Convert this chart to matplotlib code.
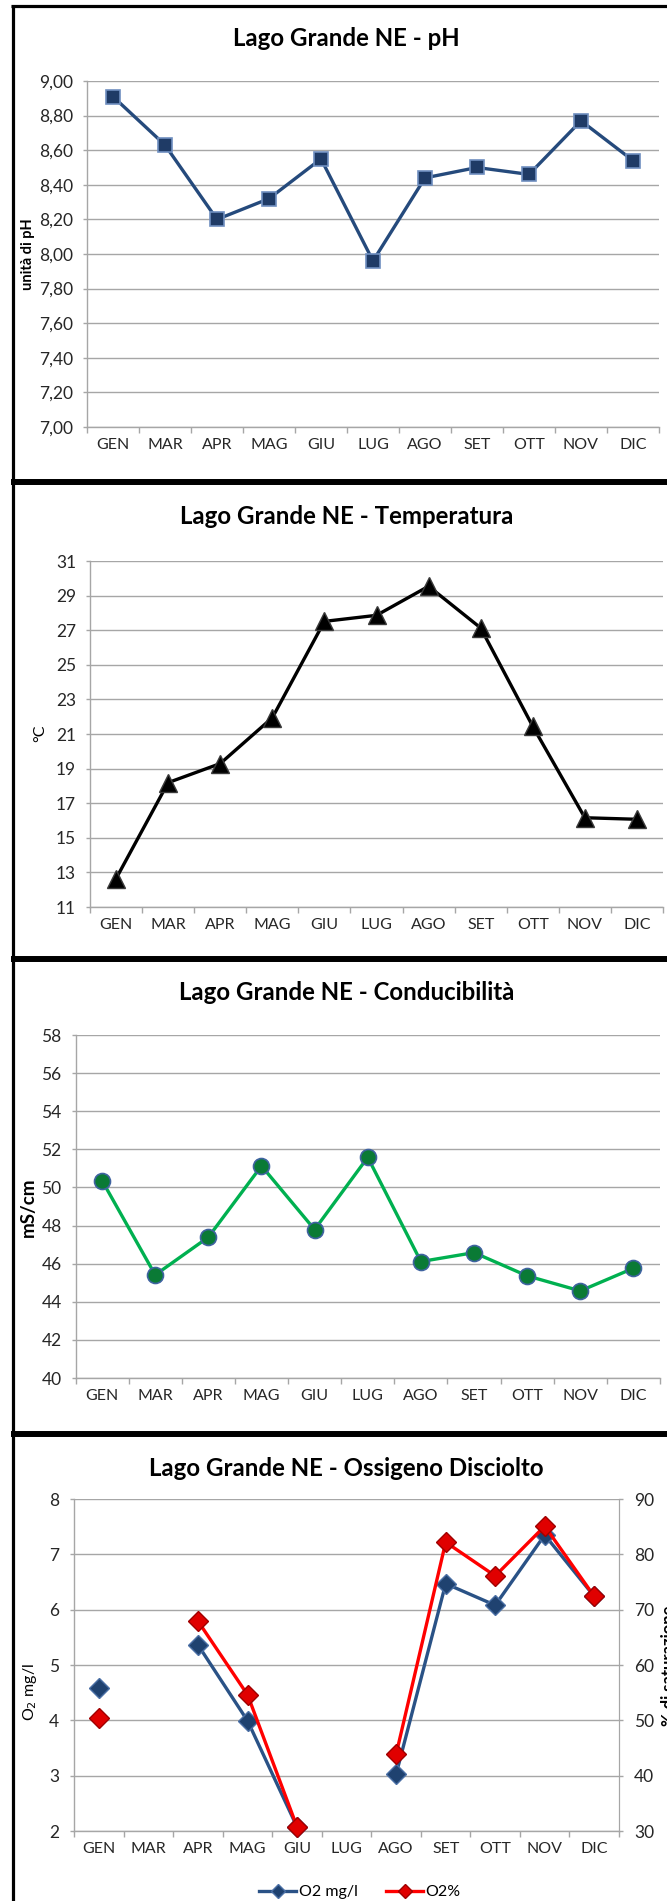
import numpy as np
import matplotlib
matplotlib.use("Agg")
import matplotlib.pyplot as plt
from matplotlib.lines import Line2D

plt.rcParams['font.family'] = ['Lato', 'DejaVu Sans']

months = ["GEN", "MAR", "APR", "MAG", "GIU", "LUG", "AGO", "SET", "OTT", "NOV", "DIC"]
ph = [8.91, 8.63, 8.20, 8.32, 8.55, 7.96, 8.44, 8.50, 8.46, 8.77, 8.54]
temp = [12.64, 18.19, 19.29, 21.94, 27.51, 27.86, 29.54, 27.13, 21.44, 16.16, 16.07]
cond = [50.36, 45.41, 47.39, 51.13, 47.79, 51.58, 46.11, 46.58, 45.36, 44.57, 45.76]
o2_mgl = [4.59, np.nan, 5.36, 3.99, 2.07, np.nan, 3.03, 6.47, 6.08, 7.35, 6.24]
o2_pct = [50.5, np.nan, 67.9, 54.6, 30.7, np.nan, 43.9, 82.2, 76.1, 85.1, 72.4]

ph_ticks = [7.0, 7.2, 7.4, 7.6, 7.8, 8.0, 8.2, 8.4, 8.6, 8.8, 9.0]
temp_ticks = [11, 13, 15, 17, 19, 21, 23, 25, 27, 29, 31]
cond_ticks = [40, 42, 44, 46, 48, 50, 52, 54, 56, 58]
o2_ticks = [2, 3, 4, 5, 6, 7, 8]
pct_ticks = [30, 40, 50, 60, 70, 80, 90]

W, H = 667, 1901
fig = plt.figure(figsize=(W / 100, H / 100), dpi=100)
fig.patch.set_facecolor("white")

GRID = "#a6a6a6"
TXT = "#262626"
TICKFS = 12.5
CATFS = 11.5
TITLEFS = 17.3


def fx(x):
    return x / W


def fy(y):
    return 1 - y / H


def make_ax(l, r, t, b):
    ax = fig.add_axes([l / W, 1 - b / H, (r - l) / W, (b - t) / H])
    return ax


def style_ax(ax, ticks, fmt):
    n = len(months)
    ax.set_xlim(0, n)
    ax.set_xticks(np.arange(n + 1))
    ax.set_xticklabels([])
    ax.set_xticks(np.arange(n) + 0.5, minor=True)
    ax.set_xticklabels(months, minor=True, fontsize=CATFS, color=TXT)
    ax.tick_params(axis="x", which="major", length=4, color=GRID, width=1, direction="out")
    ax.tick_params(axis="x", which="minor", length=0, pad=8)
    ax.set_ylim(ticks[0], ticks[-1])
    ax.set_yticks(ticks)
    ax.set_yticklabels([fmt(v) for v in ticks], fontsize=TICKFS, color=TXT)
    ax.tick_params(axis="y", length=3, color=GRID, width=1, pad=7, direction="out")
    ax.grid(axis="y", color=GRID, lw=1)
    ax.set_axisbelow(True)
    for s in ["top", "right"]:
        ax.spines[s].set_visible(False)
    for s in ["left", "bottom"]:
        ax.spines[s].set_color(GRID)
        ax.spines[s].set_linewidth(1)
    ax.set_facecolor("none")


x = np.arange(len(months)) + 0.5

# ---- Panel 1: pH
ax1 = make_ax(87, 659, 81, 427)
style_ax(ax1, ph_ticks, lambda v: f"{v:.2f}".replace(".", ","))
ax1.plot(x, ph, color="#254a7c", lw=2.4, marker="s", ms=10.5,
         mfc="#1f3b66", mec="#6f8fc0", mew=1.2, zorder=3, clip_on=False)
fig.text(fx(346), fy(38), "Lago Grande NE - pH", ha="center", va="center",
         fontsize=TITLEFS, fontweight="bold", color="black")
fig.text(fx(28), fy(254), "unità di pH", rotation=90, ha="center", va="center",
         fontsize=10.5, fontweight="bold", color="black")

# ---- Panel 2: Temperatura
ax2 = make_ax(90, 663, 561, 907)
style_ax(ax2, temp_ticks, lambda v: f"{v:d}")
ax2.plot(x, temp, color="black", lw=2.4, marker="^", ms=13,
         mfc="black", mec="#3a3a3a", mew=1, zorder=3, clip_on=False)
fig.text(fx(347), fy(516), "Lago Grande NE - Temperatura", ha="center", va="center",
         fontsize=TITLEFS, fontweight="bold", color="black")
fig.text(fx(40), fy(733), "°C", rotation=90, ha="center", va="center",
         fontsize=11.5, color="black")

# ---- Panel 3: Conducibilità
ax3 = make_ax(75.5, 660, 1035, 1378)
style_ax(ax3, cond_ticks, lambda v: f"{v:d}")
ax3.plot(x, cond, color="#00b050", lw=2.4, marker="o", ms=11.5,
         mfc="#0a7a35", mec="#3f63a0", mew=1.2, zorder=3, clip_on=False)
fig.text(fx(347), fy(992), "Lago Grande NE - Conducibilità", ha="center", va="center",
         fontsize=TITLEFS, fontweight="bold", color="black")
fig.text(fx(28), fy(1207), "mS/cm", rotation=90, ha="center", va="center",
         fontsize=13.5, fontweight="bold", color="black")

# ---- Panel 4: Ossigeno disciolto
ax4 = make_ax(74.3, 619, 1499, 1831)
style_ax(ax4, o2_ticks, lambda v: f"{v:d}")
ax4.tick_params(axis="y", pad=8)
ax4.spines["right"].set_visible(True)
ax4.spines["right"].set_color(GRID)
ln1, = ax4.plot(x, o2_mgl, color="#2a5286", lw=2.4, marker="D", ms=10,
                mfc="#1f4270", mec="#4a6fa5", mew=1, zorder=3, clip_on=False)
ax5 = ax4.twinx()
ax5.set_ylim(pct_ticks[0], pct_ticks[-1])
ax5.set_yticks(pct_ticks)
ax5.set_yticklabels([str(v) for v in pct_ticks], fontsize=TICKFS, color=TXT)
ax5.tick_params(axis="y", length=3, color=GRID, width=1, pad=8, direction="out")
for s in ["top", "left", "bottom"]:
    ax5.spines[s].set_visible(False)
ax5.spines["right"].set_color(GRID)
ax5.set_facecolor("none")
ln2, = ax5.plot(x, o2_pct, color="#ff0000", lw=2.4, marker="D", ms=10,
                mfc="#e00000", mec="#a00000", mew=1, zorder=3, clip_on=False)
fig.text(fx(346), fy(1468), "Lago Grande NE - Ossigeno Disciolto", ha="center", va="center",
         fontsize=TITLEFS, fontweight="bold", color="black")
fig.text(fx(30), fy(1692), "O$_2$ mg/l", rotation=90, ha="center", va="center",
         fontsize=11.5, color="black")
fig.text(fx(661), fy(1666), "% di saturazione", rotation=90, ha="left", va="center",
         fontsize=12, fontweight="bold", color="black")

fig.legend([ln1, ln2], ["O2 mg/l", "O2%"], loc="center", bbox_to_anchor=(fx(360), fy(1892)),
           ncol=2, frameon=False, fontsize=11.5, handlelength=2.3, handletextpad=0.15,
           columnspacing=1.8, markerscale=0.75)

# ---- Panel borders
def hline(y, lw):
    fig.add_artist(Line2D([fx(11), 1.0], [fy(y), fy(y)], color="black", lw=lw,
                          transform=fig.transFigure, solid_capstyle="butt"))

fig.add_artist(Line2D([fx(12.5), fx(12.5)], [fy(5), 0], color="black", lw=2.3,
                      transform=fig.transFigure, solid_capstyle="butt"))
hline(6, 2.3)
hline(482, 4.3)
hline(959, 4.3)
hline(1434, 4.3)

fig.savefig("out.png", dpi=100, facecolor="white")
